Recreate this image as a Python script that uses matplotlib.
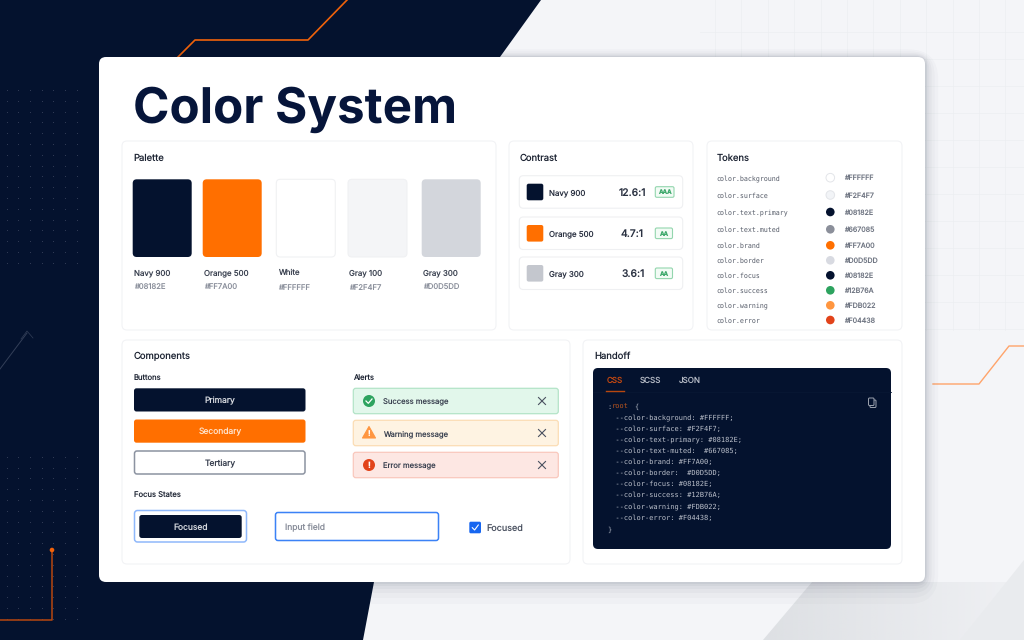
import numpy as np
import matplotlib
matplotlib.use('Agg')
import matplotlib.pyplot as plt
from matplotlib.patches import FancyBboxPatch, Polygon, Circle
from matplotlib.colors import to_rgb

plt.rcParams['font.family'] = ['Inter', 'DejaVu Sans']
plt.rcParams['text.hinting'] = 'no_hinting'

NAVY = '#04122E'
ORANGE = '#FF6F00'
INK = '#1D2433'
BLUE = '#3B82F6'

# data
swatch_names = ['Navy 900', 'Orange 500', 'White', 'Gray 100', 'Gray 300']
swatch_hex = ['#08182E', '#FF7A00', '#FFFFFF', '#F2F4F7', '#D0D5DD']
swatch_fill = [NAVY, ORANGE, '#FFFFFF', '#F4F5F7', '#D3D6DC']

contrast_names = ['Navy 900', 'Orange 500', 'Gray 300']
contrast_ratio = ['12.6:1', '4.7:1', '3.6:1']
contrast_grade = ['AAA', 'AA', 'AA']
contrast_fill = [NAVY, ORANGE, '#C4C7CE']

token_names = ['color.background', 'color.surface', 'color.text.primary', 'color.text.muted',
               'color.brand', 'color.border', 'color.focus', 'color.success', 'color.warning', 'color.error']
token_hex = ['#FFFFFF', '#F2F4F7', '#08182E', '#667085', '#FF7A00',
             '#D0D5DD', '#08182E', '#12B76A', '#FDB022', '#F04438']
token_fill = ['#FFFFFF', '#F2F4F7', NAVY, '#8B8F9A', ORANGE, '#D8DAE1', NAVY, '#2DA35F', '#FF9640', '#E2431A']

alert_text = ['Success message', 'Warning message', 'Error message']
code_lines = ['  --color-background: #FFFFFF;',
              '  --color-surface: #F2F4F7;',
              '  --color-text-primary: #08182E;',
              '  --color-text-muted:  #667085;',
              '  --color-brand: #FF7A00;',
              '  --color-border:  #D0D5DD;',
              '  --color-focus: #08182E;',
              '  --color-success: #12B76A;',
              '  --color-warning: #FDB022;',
              '  --color-error: #F04438;']

# pixel canvas
fig = plt.figure(figsize=(10.24, 6.4), dpi=100)
ax = fig.add_axes([0, 0, 1, 1])
ax.set_xlim(0, 1024)
ax.set_ylim(640, 0)
ax.axis('off')


def box(x0, y0, x1, y1, r=3, fc='white', ec='none', lw=0.8, z=3, alpha=None):
    p = FancyBboxPatch((x0, y0), x1 - x0, y1 - y0, boxstyle=f'round,pad=0,rounding_size={r}',
                       fc=fc, ec=ec, lw=lw, zorder=z, alpha=alpha)
    ax.add_patch(p)


def label(x, y, s, size=5.5, color=INK, ha='left', weight='normal', z=6, **kw):
    ax.text(x, y, s, fontsize=size, color=color, ha=ha, va='center_baseline', weight=weight, zorder=z, **kw)


# background
ax.add_patch(Polygon([(0, 0), (1024, 0), (1024, 640), (0, 640)], fc='#F4F5F8', ec='none', zorder=0))
for gx in np.arange(715, 1024, 26.4):
    ax.plot([gx, gx], [0, 330], color='#ECEEF1', lw=0.5, zorder=0.5)
for gy in np.arange(32, 330, 27):
    ax.plot([700, 1024], [gy, gy], color='#ECEEF1', lw=0.5, zorder=0.5)

# gray band bottom right, fades out to the right
band = Polygon([(763, 640), (812, 582), (1024, 582), (1024, 640)], fc='none', ec='none', zorder=0.6)
ax.add_patch(band)
grad = np.zeros((2, 256, 4))
grad[..., :3] = to_rgb('#D6D9DD')
grad[..., 3] = np.linspace(0.75, 0.15, 256)
im = ax.imshow(grad, extent=(763, 1024, 640, 582), aspect='auto', zorder=0.6)
im.set_clip_path(band)
ax.set_xlim(0, 1024)
ax.set_ylim(640, 0)
ax.add_patch(Polygon([(960, 640), (1024, 560), (1024, 640)], fc='#E9EBEE', ec='none', zorder=0.7))
ax.add_patch(Polygon([(0, 0), (541, 0), (500, 57), (374, 582), (363, 640), (0, 640)], fc=NAVY, ec='none', zorder=1))

# dot grids on the navy part
for ys in (np.arange(90, 272, 10.8), np.arange(456.7, 622, 10.8)):
    gx, gy = np.meshgrid(np.arange(6.7, 80, 11.67), ys)
    ax.scatter(gx.ravel(), gy.ravel(), s=0.6, color='#36415A', lw=0, zorder=1.5)

# decorative lines
ax.plot([178, 195, 308, 347], [57, 40, 40, 0], color='#F0620A', lw=1.2, zorder=2)
ax.plot([0, 27], [369, 333], color='#333F58', lw=0.7, zorder=2)
ax.plot([21, 27, 33], [339, 331, 338], color='#333F58', lw=0.5, zorder=2)
ax.plot([0, 52, 52], [620, 620, 550], color='#B8470F', lw=1.1, zorder=2)
ax.add_patch(Circle((52, 550), 2.3, fc='#F0620A', ec='none', zorder=2))
ax.plot([933, 979, 1009, 1024], [384, 384, 346, 346], color='#FFA46B', lw=1, zorder=2)

# main card with soft shadow
for grow, a in zip([22, 16, 11, 7, 4, 2], [0.02, 0.025, 0.03, 0.035, 0.045, 0.05]):
    box(99 - grow * 0.6, 57 - grow * 0.35, 925 + grow * 0.6, 582 + grow, r=8 + grow, fc='#1C2740', z=2.4, alpha=a)
box(99, 57, 925, 582, r=7, fc='#FFFFFF', z=3)
label(133, 105, 'Color System', size=35.5, color='#06153A', weight='bold')

# panels
for x0, y0, x1, y1 in [(122, 141, 496, 330), (509, 141, 693, 330), (707, 141, 902, 330),
                       (122, 340, 570, 564), (583, 340, 902, 564)]:
    box(x0, y0, x1, y1, r=5, fc='#FFFFFF', ec='#F2F3F5', lw=0.8, z=3.5)

# palette
label(133, 157, 'Palette', size=6.8)
sw_x = [132.7, 202.7, 276.3, 348, 421.7]
sw_lab = [134.3, 203.7, 277.7, 349.3, 423]
for i, name in enumerate(swatch_names):
    ec = '#F0F1F3' if i in (2, 3) else 'none'
    box(sw_x[i], 179.3, sw_x[i] + 59, 257, r=4, fc=swatch_fill[i], ec=ec, z=4)
    label(sw_lab[i], 272, name, size=5.7, color='#3A4150')
    label(sw_lab[i], 286.7, swatch_hex[i], size=5.5, color='#8A8F9B')

# contrast
label(520, 157, 'Contrast', size=6.8)
row_y = [175.7, 217, 257]
ratio_x = [646.5, 644, 644.5]
badge_x1 = [674, 672.5, 672.5]
for i, name in enumerate(contrast_names):
    y0 = row_y[i]
    yc = y0 + 16.3
    box(519.3, y0, 682.7, y0 + 32.5, r=4, fc='white', ec='#EFF0F2', z=4)
    box(526.7, yc - 8.3, 543.3, yc + 8.3, r=2, fc=contrast_fill[i], z=5)
    label(549.3, yc, name, size=5.7, color='#2B3242')
    label(ratio_x[i], yc, contrast_ratio[i], size=7.4, color='#2B3242', ha='right', weight='medium')
    box(655.3, yc - 5.3, badge_x1[i], yc + 5.3, r=1.5, fc='#F2FBF5', ec='#93D6AE', lw=0.8, z=5)
    label((655.3 + badge_x1[i]) / 2, yc, contrast_grade[i], size=4.4, color='#3FA96D', ha='center', weight='bold')

# tokens
label(717, 157, 'Tokens', size=6.8)
token_y = [177.7, 195, 212, 229.3, 245.3, 260.3, 275.3, 290.3, 305.3, 320]
for i, name in enumerate(token_names):
    label(716.7, token_y[i], name, size=4.75, color='#555B68', family=['DejaVu Sans Mono'])
    ec = '#E3E5E9' if i < 2 else 'none'
    ax.add_patch(Circle((830.3, token_y[i]), 4.3, fc=token_fill[i], ec=ec, lw=0.7, zorder=5))
    label(844, token_y[i], token_hex[i], size=5.1, color='#6F7582')

# components
label(134, 355.5, 'Components', size=6.8)
label(134, 377, 'Buttons', size=5.5)
label(353, 377, 'Alerts', size=5.5)
box(134, 388.3, 305.5, 411.5, r=2.5, fc=NAVY, z=4)
label(220, 400, 'Primary', size=6.1, color='#D5D8DE', ha='center')
box(134, 419.5, 305.5, 442.7, r=2.5, fc=ORANGE, z=4)
label(220, 431.3, 'Secondary', size=6.1, color='#FFE0C7', ha='center')
box(134.5, 451, 305, 474, r=2.5, fc='white', ec='#8C93A1', lw=1.1, z=4)
label(220, 462.5, 'Tertiary', size=6.1, color='#3A4150', ha='center')

alert_y = [388.3, 420.3, 452.3]
alert_fc = ['#E2F7EB', '#FEF3E2', '#FDE7E3']
alert_ec = ['#B4E4C8', '#FBDDB5', '#F9C8BD']
for i, msg in enumerate(alert_text):
    y0 = alert_y[i]
    yc = y0 + 12.7
    box(353.3, y0, 558.3, y0 + 25.4, r=2.5, fc=alert_fc[i], ec=alert_ec[i], lw=0.9, z=4)
    label(383.3, yc, msg, size=5.5, color='#3A4150')
    ax.plot([538.5, 545.5], [yc - 3.5, yc + 3.5], color='#4A5160', lw=0.8, zorder=6)
    ax.plot([538.5, 545.5], [yc + 3.5, yc - 3.5], color='#4A5160', lw=0.8, zorder=6)
# alert icons
yc = alert_y[0] + 12.7
ax.add_patch(Circle((369, yc), 6, fc='#2DA35F', ec='none', zorder=5))
ax.plot([366, 368.3, 372], [yc, yc + 2.3, yc - 2], color='white', lw=0.9, zorder=6)
yc = alert_y[1] + 12.7
ax.add_patch(Polygon([(369, yc - 6.5), (375.5, yc + 5), (362.5, yc + 5)], fc='#FF9640', ec='#FF9640', lw=0.8,
                     joinstyle='round', zorder=5))
label(369, yc + 0.5, '!', size=5.5, color='white', ha='center', weight='bold')
yc = alert_y[2] + 12.7
ax.add_patch(Circle((369, yc), 6, fc='#E2431A', ec='none', zorder=5))
label(369, yc, '!', size=6, color='white', ha='center', weight='bold')

# focus states
label(134, 495, 'Focus States', size=5.5)
box(134.5, 510.5, 246.5, 542, r=3, fc='white', ec='#8FB8FB', lw=1.1, z=4)
box(139.3, 515, 241.7, 538, r=2.5, fc=NAVY, z=5)
label(190.5, 526.5, 'Focused', size=6.1, color='#D5D8DE', ha='center')
box(275.5, 512.5, 438.5, 540.5, r=2.5, fc='white', ec=BLUE, lw=1.1, z=4)
label(284.7, 526.7, 'Input field', size=6.1, color='#8A8F9B')
box(469.3, 521.7, 481, 533.3, r=1.5, fc='#1766F0', z=4)
ax.plot([472.3, 474.6, 478.3], [527.7, 530, 525], color='white', lw=0.8, zorder=6)
label(486.7, 527.5, 'Focused', size=6.5, color='#4A5160')

# handoff
label(594, 355.5, 'Handoff', size=6.8)
box(593, 368, 891, 549, r=5, fc=NAVY, z=4)
ax.plot([593, 891], [391.5, 391.5], color='#081733', lw=0.6, zorder=5)
ax.plot([606, 624], [391, 391], color='#B8470F', lw=1, zorder=6)
label(606.7, 380, 'CSS', size=5.8, color='#C9490F')
label(640, 380, 'SCSS', size=5.8, color='#B4B9C4')
label(679, 380, 'JSON', size=5.8, color='#B4B9C4')
# copy icon
box(870, 400, 876, 407.5, r=1, fc='none', ec='#9EA4B0', lw=0.7, z=6)
box(868.5, 398, 874, 405.5, r=1, fc=NAVY, ec='#9EA4B0', lw=0.7, z=6)

code_font = ['DejaVu Sans Mono']
label(607, 406.3, ':', size=5.08, color='#AEB4C0', family=code_font)
label(611.3, 406.3, 'root', size=5.08, color='#B8541E', family=code_font)
label(634.5, 406.3, '{', size=5.08, color='#AEB4C0', family=code_font)
code_y = [417.3, 428.3, 439.3, 450.3, 461.3, 472.3, 483.3, 494.7, 506, 517]
for yy, line in zip(code_y, code_lines):
    label(607, yy, line, size=5.08, color='#BCC1CC', family=code_font)
label(607, 529.3, '}', size=5.08, color='#AEB4C0', family=code_font)

fig.savefig('out.png', dpi=100)
